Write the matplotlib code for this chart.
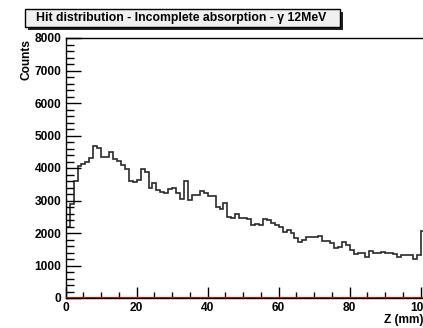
import matplotlib
matplotlib.use("Agg")
import matplotlib.pyplot as plt
from matplotlib.patches import Rectangle
import numpy as np

# Hit counts per Z bin (bin width 100/90 mm), last bin sits just past the back face
counts = [
    2200, 2900, 3600, 4060, 4120, 4180, 4300, 4680, 4620, 4350,
    4330, 4500, 4270, 4220, 4100, 3960, 3610, 3560, 3630, 3960,
    3890, 3370, 3530, 3320, 3270, 3240, 3340, 3390, 3220, 3040,
    3610, 3010, 3170, 3170, 3300, 3240, 3140, 3140, 2790, 2730,
    2910, 2500, 2450, 2600, 2450, 2450, 2420, 2250, 2280, 2250,
    2420, 2400, 2320, 2250, 2180, 2040, 2090, 1990, 1840, 1730,
    1780, 1880, 1880, 1880, 1910, 1760, 1740, 1700, 1530, 1580,
    1713, 1630, 1480, 1350, 1400, 1400, 1270, 1450, 1390, 1390,
    1420, 1370, 1400, 1350, 1270, 1320, 1320, 1320, 1200, 1320,
    2060,
]
z_min, z_max_det, n_det_bins = 0.0, 100.0, 90
x_ticks = [0, 20, 40, 60, 80, 100]
y_ticks = [0, 1000, 2000, 3000, 4000, 5000, 6000, 7000, 8000]
title = "Hit distribution - Incomplete absorption - \u03b3 12MeV"

W, H, DPI = 423, 328, 100
plt.rcParams["font.family"] = ["Liberation Sans", "DejaVu Sans"]
fig = plt.figure(figsize=(W / DPI, H / DPI), dpi=DPI)

# axes placed in pixel units
x0_px, y0_px, ytop_px = 65.7, 298.0, 38.0
px_per_mm = 3.55
xlim = (0, 102)
ax = fig.add_axes([x0_px / W, (H - y0_px) / H,
                   (xlim[1] - xlim[0]) * px_per_mm / W, (y0_px - ytop_px) / H])

width = (z_max_det - z_min) / n_det_bins
edges = z_min + width * np.arange(len(counts) + 1)
ax.stairs(counts, edges, color="#2a2a2a", linewidth=1.2, baseline=0)
ax.axhline(0, color="#dd0000", linewidth=2.2, zorder=5)

ax.set_xlim(*xlim)
ax.set_ylim(0, 8000)
ax.set_xticks(x_ticks)
ax.set_xticklabels([str(t) for t in x_ticks])
ax.set_xticks(np.arange(0, 101, 5), minor=True)
ax.set_yticks(y_ticks)
ax.set_yticklabels([str(t) for t in y_ticks])
ax.set_yticks(np.arange(0, 8001, 200), minor=True)

tick_fs = 8.6
for lbl in ax.get_xticklabels() + ax.get_yticklabels():
    lbl.set_fontweight("bold")
    lbl.set_fontsize(tick_fs)

ax.tick_params(axis="x", which="major", direction="in", length=8, width=1, pad=3)
ax.tick_params(axis="x", which="minor", direction="in", length=4, width=1)
ax.tick_params(axis="y", which="major", direction="in", length=11, width=1, pad=3)
ax.tick_params(axis="y", which="minor", direction="in", length=6, width=1)
for s in ax.spines.values():
    s.set_linewidth(1.0)

# axis titles
fig.text(27 / W, 1 - 39 / H, "Counts", rotation=90, ha="center", va="top",
         fontsize=tick_fs, fontweight="bold")
fig.text(424 / W, 1 - 320.5 / H, "Z (mm)", ha="right", va="center",
         fontsize=tick_fs, fontweight="bold")

# title box with drop shadow
bx, by, bw, bh = 25, 9, 315, 18
fig.patches.append(Rectangle(((bx + 3) / W, 1 - (by + bh + 3) / H), bw / W, bh / H,
                             transform=fig.transFigure, facecolor="#222222",
                             edgecolor="none", zorder=1))
fig.patches.append(Rectangle((bx / W, 1 - (by + bh) / H), bw / W, bh / H,
                             transform=fig.transFigure, facecolor="#f0f0f0",
                             edgecolor="black", linewidth=1.0, zorder=2))
fig.text((bx + bw / 2 - 1) / W, 1 - (by + bh / 2) / H, title, ha="center", va="center",
         fontsize=8.85, fontweight="bold", zorder=3)

fig.savefig("out.png", dpi=DPI)
